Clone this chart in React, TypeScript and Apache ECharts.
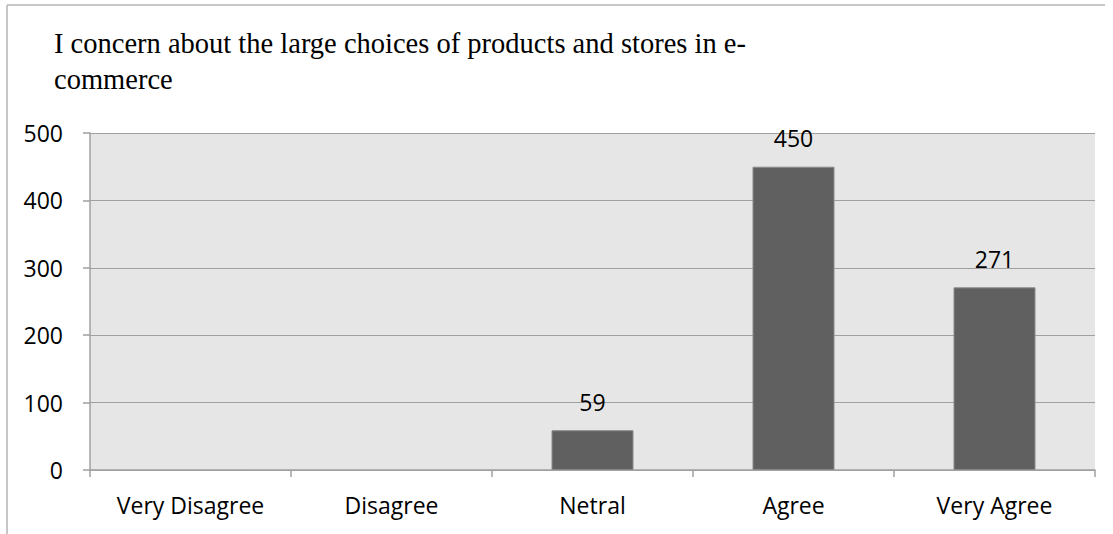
import React, { useEffect, useRef } from "react";
import * as echarts from "echarts";

const titleText = "I concern about the large choices of products and stores in e-\ncommerce";
const categories = ["Very Disagree", "Disagree", "Netral", "Agree", "Very Agree"];
const values: (number | null)[] = [null, null, 59, 450, 271];
const yTicks = { min: 0, max: 500, interval: 100 };

export default function App() {
  const ref = useRef<HTMLDivElement>(null);
  useEffect(() => {
    document.body.style.margin = "0";
    const chart = echarts.init(ref.current!, null, { renderer: "svg" });
    const labelFont = { fontFamily: "Open Sans", fontSize: 23, color: "#000000" };
    chart.setOption({
      animation: false,
      backgroundColor: "#ffffff",
      title: {
        text: titleText,
        left: 49,
        top: 20,
        textStyle: {
          fontFamily: "Liberation Serif",
          fontSize: 28.5,
          fontWeight: "normal",
          color: "#000000",
          lineHeight: 36,
        },
      },
      graphic: [
        { type: "line", shape: { x1: 7, y1: 5, x2: 1105, y2: 5 }, style: { stroke: "#b4b4b4", lineWidth: 1.5 } },
        { type: "line", shape: { x1: 7, y1: 5, x2: 7, y2: 534 }, style: { stroke: "#b4b4b4", lineWidth: 1.5 } },
      ],
      grid: {
        left: 90,
        right: 18,
        top: 133,
        bottom: 64,
        show: true,
        backgroundColor: "#e6e6e6",
        borderWidth: 0,
      },
      xAxis: {
        type: "category",
        data: categories,
        boundaryGap: true,
        axisLine: { show: true, lineStyle: { color: "#a0a0a0", width: 1.5 } },
        axisTick: { show: true, length: 7, alignWithLabel: false, lineStyle: { color: "#a0a0a0", width: 1.5 } },
        axisLabel: { margin: 23, ...labelFont },
      },
      yAxis: {
        type: "value",
        min: yTicks.min,
        max: yTicks.max,
        interval: yTicks.interval,
        axisLine: { show: true, lineStyle: { color: "#a0a0a0", width: 1.5 } },
        axisTick: { show: true, length: 7, lineStyle: { color: "#a0a0a0", width: 1.5 } },
        splitLine: { show: true, lineStyle: { color: "#a0a0a0", width: 1.2 } },
        axisLabel: { margin: 27, ...labelFont },
      },
      series: [
        {
          type: "bar",
          data: values,
          barWidth: 82,
          itemStyle: { color: "#606060", borderColor: "#8a8a8a", borderWidth: 1 },
          label: {
            show: true,
            position: "top",
            distance: 17,
            ...labelFont,
          },
        },
      ],
    });
    return () => chart.dispose();
  }, []);
  return <div ref={ref} style={{ position: "absolute", left: 0, top: 0, width: 1113, height: 534 }} />;
}
